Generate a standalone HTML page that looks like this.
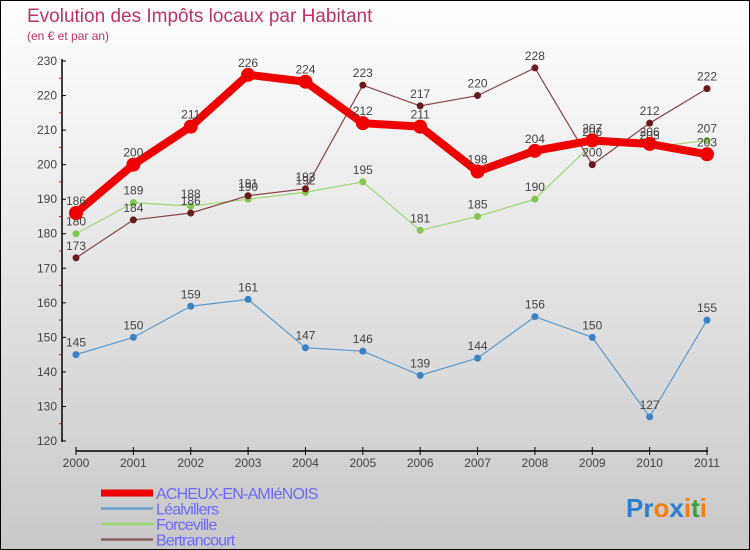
<!DOCTYPE html>
<html><head><meta charset="utf-8"><style>
body{margin:0}
#c{width:750px;height:550px;box-sizing:border-box;border:1px solid #000;background:linear-gradient(#ffffff,#c8c8c8);position:relative;overflow:hidden;font-family:"Liberation Sans",sans-serif}
svg{position:absolute;left:0;top:0}
</style></head><body>
<div id="c">
<svg id="s" width="750" height="550">
<text x="26" y="21" font-size="19" fill="#c0306a">Evolution des Impôts locaux par Habitant</text>
<text x="26" y="39" font-size="12" fill="#c0306a">(en € et par an)</text>
<text x="625" y="516" font-size="26" font-weight="bold"><tspan fill="#2a7fd0">Pr</tspan><tspan fill="#f07f10">o</tspan><tspan fill="#2a7fd0">x</tspan><tspan fill="#f07f10">i</tspan><tspan fill="#40a040">t</tspan><tspan fill="#f07f10">i</tspan></text>
</svg>
</div>
<script>
const years=['2000','2001','2002','2003','2004','2005','2006','2007','2008','2009','2010','2011'];
const yTicks=[120,130,140,150,160,170,180,190,200,210,220,230];
const acheux=[186,200,211,226,224,212,211,198,204,207,206,203];
const lealvillers=[145,150,159,161,147,146,139,144,156,150,127,155];
const forceville=[180,189,188,190,192,195,181,185,190,206,205,207];
const bertrancourt=[173,184,186,191,193,223,217,220,228,200,212,222];
const NS='http://www.w3.org/2000/svg';
const s=document.getElementById('s');
const X=i=>75+i*(706-75)/11;
const Y=v=>60+(230-v)*(440-60)/110;
function el(t,a,p){const e=document.createElementNS(NS,t);for(const k in a)e.setAttribute(k,a[k]);(p||s).appendChild(e);return e;}
// axes
let ax=el('line',{x1:61,y1:58,x2:61,y2:441,stroke:'#000','stroke-width':1.5});


ax=el('line',{x1:75,y1:450,x2:707,y2:450,stroke:'#000','stroke-width':1.5});


yTicks.forEach((v,i)=>{
  el('line',{x1:61,y1:Y(v),x2:65,y2:Y(v),stroke:'#000'});
  if(i<yTicks.length-1)el('line',{x1:58,y1:Y(v+5),x2:61,y2:Y(v+5),stroke:'#e00'});
  const t=el('text',{x:56,y:Y(v)+4,'font-size':12,fill:'#444','text-anchor':'end'});
  t.textContent=v;
  
  
});
years.forEach((y,i)=>{
  el('line',{x1:X(i),y1:446,x2:X(i),y2:454,stroke:'#000'});
  const t=el('text',{x:X(i),y:466,'font-size':12,fill:'#444','text-anchor':'middle'});
  t.textContent=y;
  
  
});
function series(data,color,dot,w,r,name){
  const g=el('g',{});
  
  
  el('polyline',{points:data.map((v,i)=>X(i)+','+Y(v)).join(' '),fill:'none',stroke:color,'stroke-width':w,'stroke-linejoin':'round'},g);
  data.forEach((v,i)=>{
    const c=el('circle',{cx:X(i),cy:Y(v),r:r,fill:dot},g);
    
    
    const t=el('text',{x:X(i),y:Y(v)-8,'font-size':12,fill:'#444','text-anchor':'middle'},g);
    t.textContent=v;
  });
}
series(lealvillers,'#5a9ad0','#3a82c4',1.2,3.5,'lealvillers-series');
series(forceville,'#9ad870','#80c850',1.2,3.5,'forceville-series');
series(bertrancourt,'#884444','#6a1a1a',1.2,3.5,'bertrancourt-series');
series(acheux,'#ee0000','#ee0000',8,7,'acheux-series');
// legend
const leg=[['ACHEUX-EN-AMIéNOIS','#ee0000',7],['Léalvillers','#6aa0d0',2.5],['Forceville','#9ad870',2.5],['Bertrancourt','#8a6060',2.5]];
leg.forEach((l,i)=>{
  const y=492+i*15.5;
  const g=el('g',{});
  
  
  el('line',{x1:100,y1:y,x2:152,y2:y,stroke:l[1],'stroke-width':l[2]},g);
  const t=el('text',{x:155,y:y+6,'font-size':16,fill:'#6a6aff','letter-spacing':-0.8},g);
  t.textContent=l[0];
});
</script>
</body></html>
